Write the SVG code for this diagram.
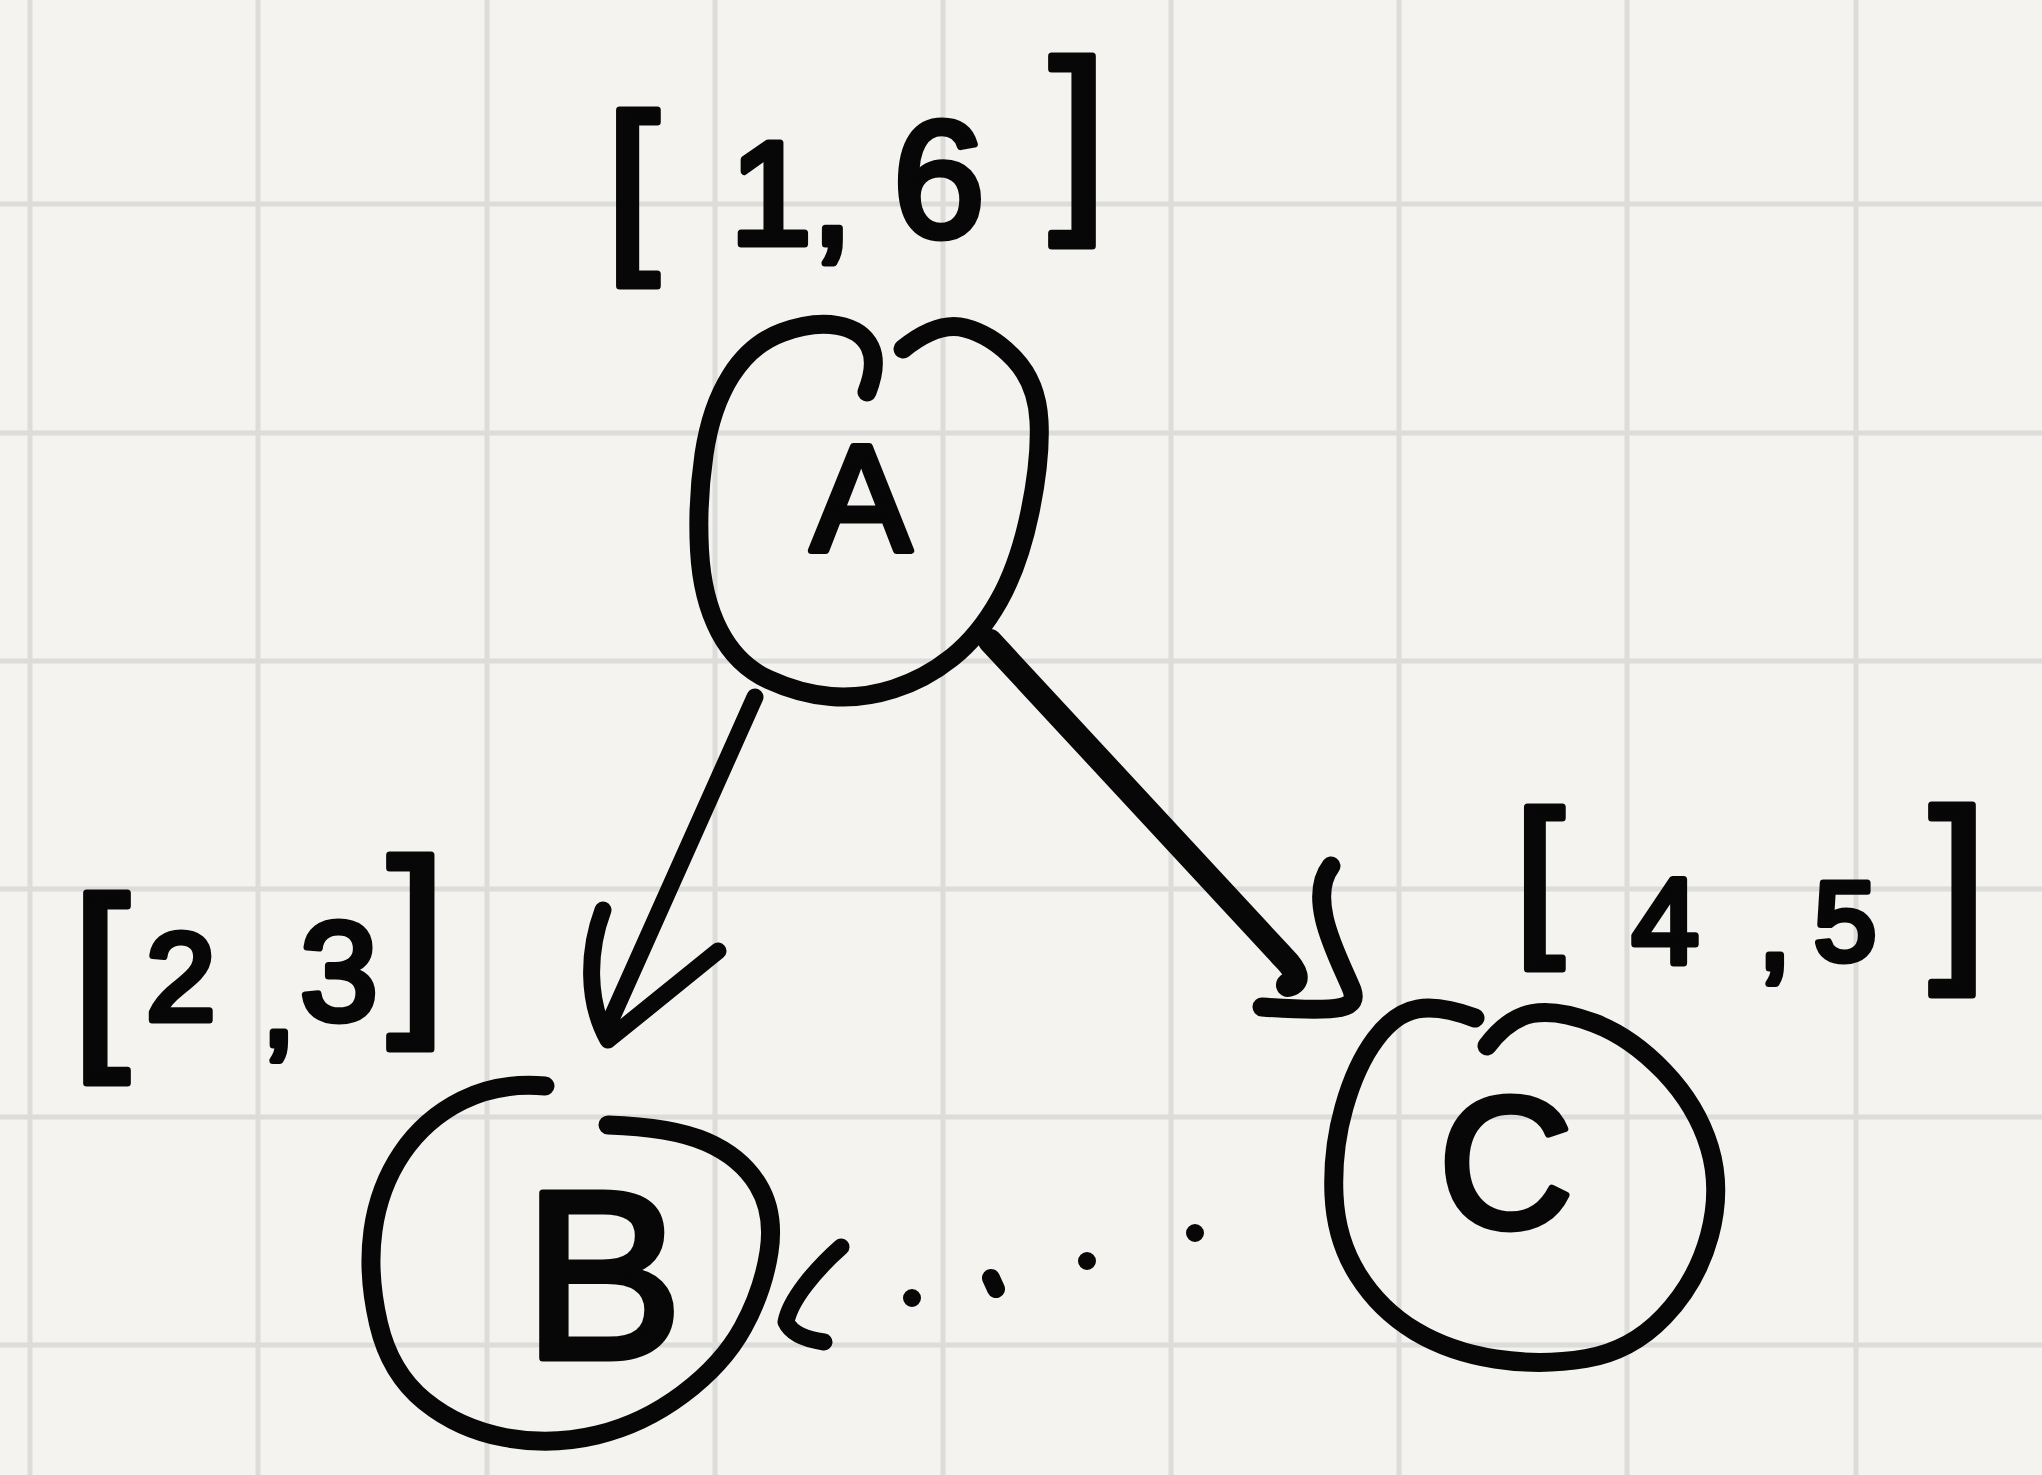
<svg xmlns="http://www.w3.org/2000/svg" width="2042" height="1475" viewBox="0 0 2042 1475">
<style>
.grid{stroke:#dcdcda;stroke-width:5;fill:none}
.ink{fill:none;stroke:#070707;stroke-width:19;stroke-linecap:round;stroke-linejoin:round}
.txt{font-family:"Liberation Sans",Arial,sans-serif;fill:#070707;stroke:#070707;stroke-width:7;stroke-linejoin:round}
</style>
<rect width="2042" height="1475" fill="#f4f3ef"/>
<g id="grid">
<path class="grid" d="M30,0V1475M258,0V1475M487,0V1475M715,0V1475M943,0V1475M1171,0V1475M1399,0V1475M1627,0V1475M1856,0V1475M0,204H2042M0,433H2042M0,661H2042M0,889H2042M0,1117H2042M0,1345H2042"/>
</g>
<g id="connectors">
<g id="edge-A-B">
<path class="ink" style="stroke-width:17" d="M755,697 L608,1026"/>
<path class="ink" style="stroke-width:17" d="M603,910 C588,950 586,1000 608,1040 L718,951"/>
</g>
<g id="edge-A-C">
<path class="ink" style="stroke-width:24" d="M990,641 L1282,956 Q1306,980 1288,985"/>
<path class="ink" style="stroke-width:19" d="M1331,866 C1305,900 1340,960 1352,990 C1358,1008 1345,1013 1262,1007"/>
</g>
<g id="edge-C-B">
<path class="ink" style="stroke-width:18" d="M1195,1233h0M1087,1261h0M991,1278l5,11M912,1298h0"/>
<path class="ink" style="stroke-width:17" d="M841,1247 C815,1270 790,1300 786,1322 C792,1335 810,1340 824,1342"/>
</g>
</g>
<g id="node-A">
<path class="ink" d="M867,392 Q878,364 870,347 Q862,330 837.5,325.5 Q813,321 782,332.5 Q751,344 731,375.5 Q711,407 704,454.5 Q697,502 699.5,550 Q702,598 719.5,631.5 Q737,665 768.5,679.5 Q800,694 831,696.5 Q862,699 893.5,689 Q925,679 952,657.5 Q979,636 999,600.5 Q1019,565 1030,512 Q1041,459 1039,421 Q1037,383 1014.5,359 Q992,335 965,328 Q938,321 903,349"/>
<text class="txt" x="861" y="550" font-size="150" text-anchor="middle">A</text>
</g>
<g id="node-B">
<path class="ink" d="M545,1086 Q499,1082 462,1100.5 Q425,1119 402,1153 Q379,1187 373,1230.5 Q367,1274 378.5,1323.5 Q390,1373 424.5,1401 Q459,1429 505,1437.5 Q551,1446 597,1435 Q643,1424 683,1394 Q723,1364 743,1327.5 Q763,1291 769,1252 Q775,1213 758,1185 Q741,1157 706.5,1142 Q672,1127 608,1125"/>
<text class="txt" x="603" y="1358" font-size="240" text-anchor="middle">B</text>
</g>
<g id="node-C">
<path class="ink" d="M1475,1018 Q1440,1005 1417.5,1009 Q1395,1013 1375.5,1039 Q1356,1065 1344,1107.5 Q1332,1150 1334,1195 Q1336,1240 1358,1275 Q1380,1310 1415,1331 Q1450,1352 1495.5,1359 Q1541,1366 1586,1358.5 Q1631,1351 1664,1316.5 Q1697,1282 1709.5,1235.5 Q1722,1189 1709.5,1147.5 Q1697,1106 1664,1071.5 Q1631,1037 1594,1023 Q1557,1009 1532.5,1013.5 Q1508,1018 1487,1046"/>
<text class="txt" x="1506" y="1227" font-size="186" text-anchor="middle">C</text>
</g>
<g id="label-A">
<text class="txt"><tspan x="606" y="247" font-size="190">[</tspan><tspan x="730" y="244" font-size="147">1,</tspan><tspan x="870" y="236" font-size="147"> </tspan><tspan x="893" y="236" font-size="165">6</tspan><tspan x="1050" y="204" font-size="205">]</tspan></text>
</g>
<g id="label-B">
<text class="txt"><tspan x="72" y="1041" font-size="205">[</tspan><tspan x="146" y="1020" font-size="125">2</tspan><tspan x="262" y="1045" font-size="120">,</tspan><tspan x="300" y="1020" font-size="140">3</tspan><tspan x="388" y="1006" font-size="208">]</tspan></text>
</g>
<g id="label-C">
<text class="txt"><tspan x="1515" y="933" font-size="175">[</tspan><tspan x="1632" y="963" font-size="120">4</tspan><tspan x="1758" y="968" font-size="120">,</tspan><tspan x="1814" y="960" font-size="112">5</tspan><tspan x="1930" y="953" font-size="205">]</tspan></text>
</g>
</svg>
